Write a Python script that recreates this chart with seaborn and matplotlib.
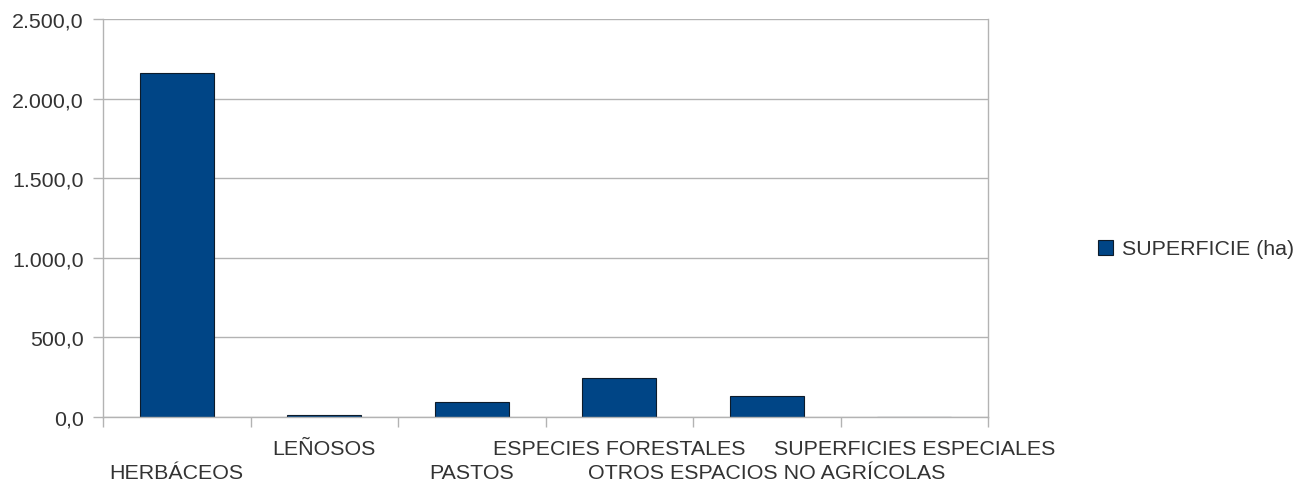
import matplotlib
matplotlib.use("Agg")
import matplotlib.pyplot as plt
import matplotlib.transforms as mtransforms
from matplotlib.ticker import FuncFormatter, FixedLocator
from matplotlib.patches import Patch
import seaborn as sns
import pandas as pd

categorias = ["HERBÁCEOS", "LEÑOSOS", "PASTOS", "ESPECIES FORESTALES",
              "OTROS ESPACIOS NO AGRÍCOLAS", "SUPERFICIES ESPECIALES"]
superficie_ha = [2161.0, 13.0, 94.0, 245.0, 134.0, 0.0]
serie = "SUPERFICIE (ha)"

sns.set_theme(style="white")
plt.rcParams["font.family"] = ["Liberation Sans", "DejaVu Sans"]

grid_col = "#b3b3b3"
bar_col = "#004586"
text_col = "#333333"
fs = 15.4

df = pd.DataFrame({"categoria": categorias, "superficie": superficie_ha})

fig = plt.figure(figsize=(13.01, 4.85), dpi=100)
ax = fig.add_axes([103 / 1301, 1 - 418 / 485, 885 / 1301, 398 / 485])

sns.barplot(data=df, x="categoria", y="superficie", color=bar_col,
            saturation=1, width=0.5, edgecolor="#0d1b2a", linewidth=0.8, ax=ax)

ax.set_xlim(-0.5, len(categorias) - 0.5)
ax.set_ylim(0, 2500)
ax.set_yticks([0, 500, 1000, 1500, 2000, 2500])
ax.yaxis.set_major_formatter(FuncFormatter(
    lambda v, _: f"{v:,.1f}".replace(",", "X").replace(".", ",").replace("X", ".")))
ax.yaxis.grid(True, color=grid_col, linewidth=1)
ax.set_axisbelow(True)
ax.set_xlabel("")
ax.set_ylabel("")

for side in ["left", "right", "bottom"]:
    ax.spines[side].set_color(grid_col)
    ax.spines[side].set_linewidth(1)
ax.spines["top"].set_visible(False)

ax.tick_params(axis="y", which="major", length=7, width=1, color=grid_col,
               pad=7, labelsize=fs, labelcolor=text_col, left=True)

# category separators as minor ticks below the axis
ax.xaxis.set_minor_locator(FixedLocator([i - 0.5 for i in range(len(categorias) + 1)]))
ax.tick_params(axis="x", which="minor", length=7, width=1, color=grid_col, bottom=True)
ax.tick_params(axis="x", which="major", length=0, pad=16, labelsize=fs,
               labelcolor=text_col)
ax.set_xticks(range(len(categorias)))
ax.set_xticklabels(categorias)

# staggered labels: even positions go on a second row
for i, lab in enumerate(ax.get_xticklabels()):
    if i % 2 == 0:
        lab.set_transform(lab.get_transform() +
                          mtransforms.ScaledTranslation(0, -24 / 100, fig.dpi_scale_trans))

handle = Patch(facecolor=bar_col, edgecolor="#0d1b2a", linewidth=0.8, label=serie)
fig.legend(handles=[handle], loc="center left", bbox_to_anchor=(1079 / 1301, 1 - 250 / 485),
           frameon=False, fontsize=fs, handlelength=0.7, handleheight=0.7,
           handletextpad=0.4, labelcolor=text_col)

fig.savefig("out.png", dpi=100)
